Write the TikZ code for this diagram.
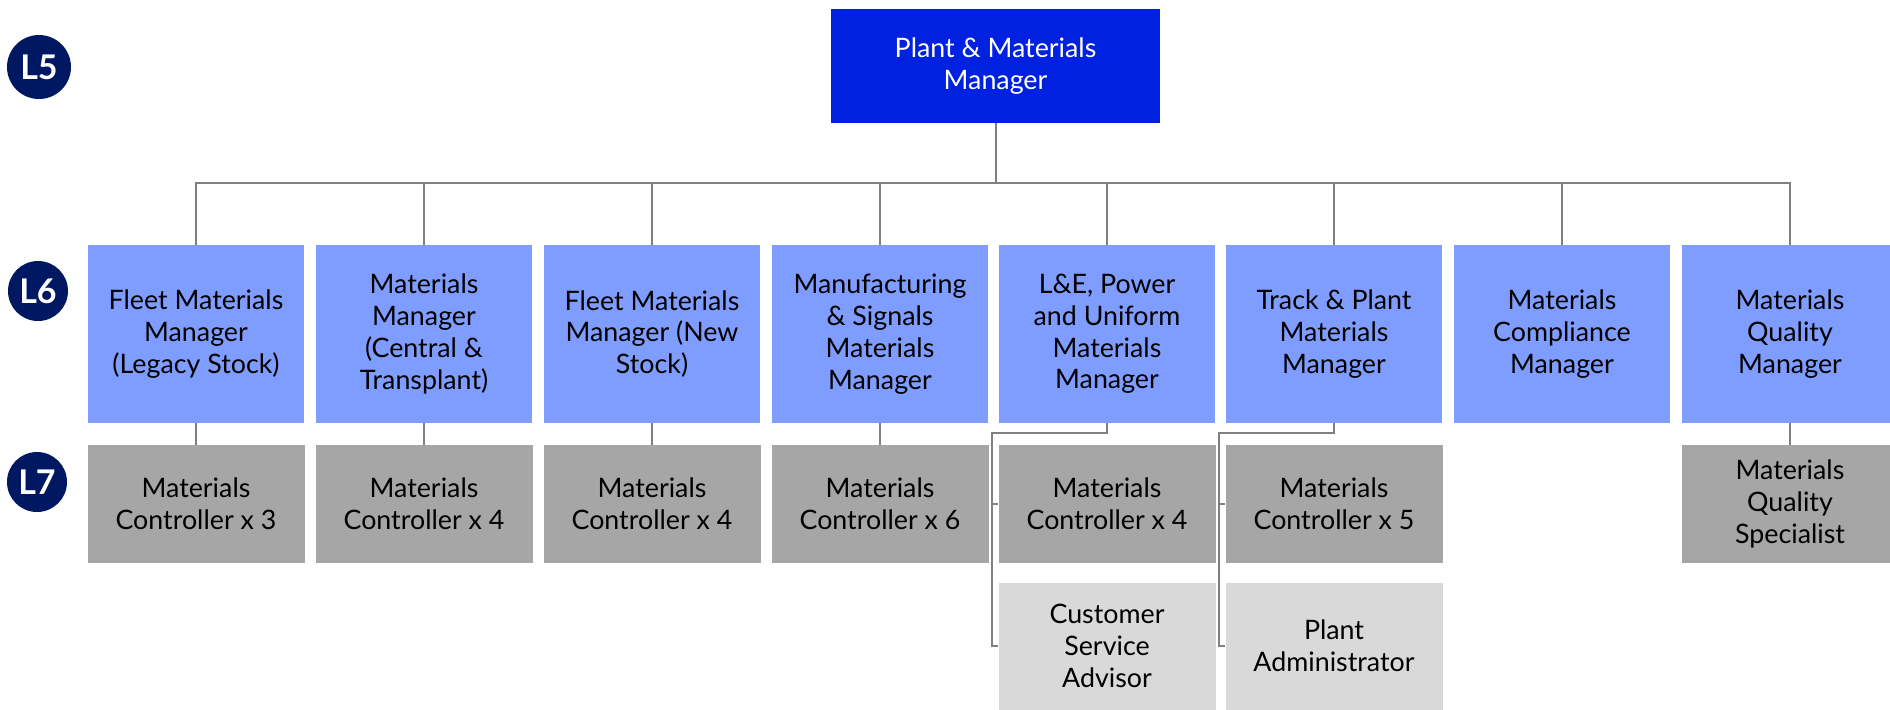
\documentclass[tikz,border=0pt]{standalone}
\usepackage{fontspec}
\setmainfont{Lato}
\definecolor{headblue}{HTML}{0022E0}
\definecolor{mgrblue}{HTML}{7F9CFF}
\definecolor{ctrlgrey}{HTML}{A6A6A6}
\definecolor{suppgrey}{HTML}{D9D9D9}
\definecolor{badgenavy}{HTML}{001862}
\definecolor{linegrey}{HTML}{808080}
\tikzset{
  box/.style={rectangle, inner sep=0pt, align=center,
    font=\fontsize{13.4}{15.9}\selectfont},
  headbox/.style={box, fill=headblue, text=white, minimum width=164.5pt, minimum height=57pt},
  mgrbox/.style={box, fill=mgrblue, minimum width=108pt, minimum height=89pt},
  ctrlbox/.style={box, fill=ctrlgrey, minimum width=108.5pt, minimum height=59pt},
  suppbox/.style={box, fill=suppgrey, minimum width=108.5pt, minimum height=63.5pt},
  badge/.style={circle, fill=badgenavy, text=white, inner sep=0pt, minimum size=30pt,
    font=\bfseries\fontsize{17}{17}\selectfont},
  link/.style={draw=linegrey, line width=1pt},
}
\begin{document}
\begin{tikzpicture}[x=0.5pt, y=-0.5pt]
  \useasboundingbox (0,0) rectangle (1890,709);
  % level badges
  \node[badge, minimum size=32pt] (l5) at (39,67) {L5};
  \node[badge] (l6) at (38,291) {L6};
  \node[badge] (l7) at (37,482) {L7};
  % L5
  \node[headbox] (head) at (995.5,66) {Plant \& Materials\\Manager};
  \coordinate (bus) at (995.5,183);
  % L6
  \node[mgrbox] (m0) at (196,334) {Fleet Materials\\Manager\\(Legacy Stock)};
  \node[mgrbox] (m1) at (424,334) {Materials\\Manager\\(Central \&\\Transplant)};
  \node[mgrbox] (m2) at (652,334) {Fleet Materials\\Manager (New\\Stock)};
  \node[mgrbox] (m3) at (880,334) {Manufacturing\\\& Signals\\Materials\\Manager};
  \node[mgrbox] (m4) at (1107,334) {L\&E, Power\\and Uniform\\Materials\\Manager};
  \node[mgrbox] (m5) at (1334,334) {Track \& Plant\\Materials\\Manager};
  \node[mgrbox] (m6) at (1562,334) {Materials\\Compliance\\Manager};
  \node[mgrbox] (m7) at (1790,334) {Materials\\Quality\\Manager};
  % L7
  \node[ctrlbox] (c0) at (196,504) {Materials\\Controller x 3};
  \node[ctrlbox] (c1) at (424,504) {Materials\\Controller x 4};
  \node[ctrlbox] (c2) at (652,504) {Materials\\Controller x 4};
  \node[ctrlbox] (c3) at (880,504) {Materials\\Controller x 6};
  \node[ctrlbox] (c4) at (1107,504) {Materials\\Controller x 4};
  \node[ctrlbox] (c5) at (1334,504) {Materials\\Controller x 5};
  \node[ctrlbox] (c7) at (1790,504) {Materials\\Quality\\Specialist};
  % support roles
  \node[suppbox] (a4) at (1107,646) {Customer\\Service\\Advisor};
  \node[suppbox] (a5) at (1334,646) {Plant\\Administrator};
  \coordinate (k4) at ([xshift=-3pt]a4.west);
  \coordinate (k5) at ([xshift=-3pt]a5.west);
  \begin{scope}[link]
    \draw (head.south) -- (bus);
    \draw (m0.north) |- (bus);
    \draw (m1.north) |- (bus);
    \draw (m2.north) |- (bus);
    \draw (m3.north) |- (bus);
    \draw (m4.north) |- (bus);
    \draw (m5.north) |- (bus);
    \draw (m6.north) |- (bus);
    \draw (m7.north) |- (bus);
    \draw (m0) -- (c0);
    \draw (m1) -- (c1);
    \draw (m2) -- (c2);
    \draw (m3) -- (c3);
    \draw (m7) -- (c7);
    \draw (m4.south) -- ++(0,10) -| (k4) -- (a4.west);
    \draw (k4 |- c4.west) -- (c4.west);
    \draw (m5.south) -- ++(0,10) -| (k5) -- (a5.west);
    \draw (k5 |- c5.west) -- (c5.west);
  \end{scope}
\end{tikzpicture}
\end{document}
